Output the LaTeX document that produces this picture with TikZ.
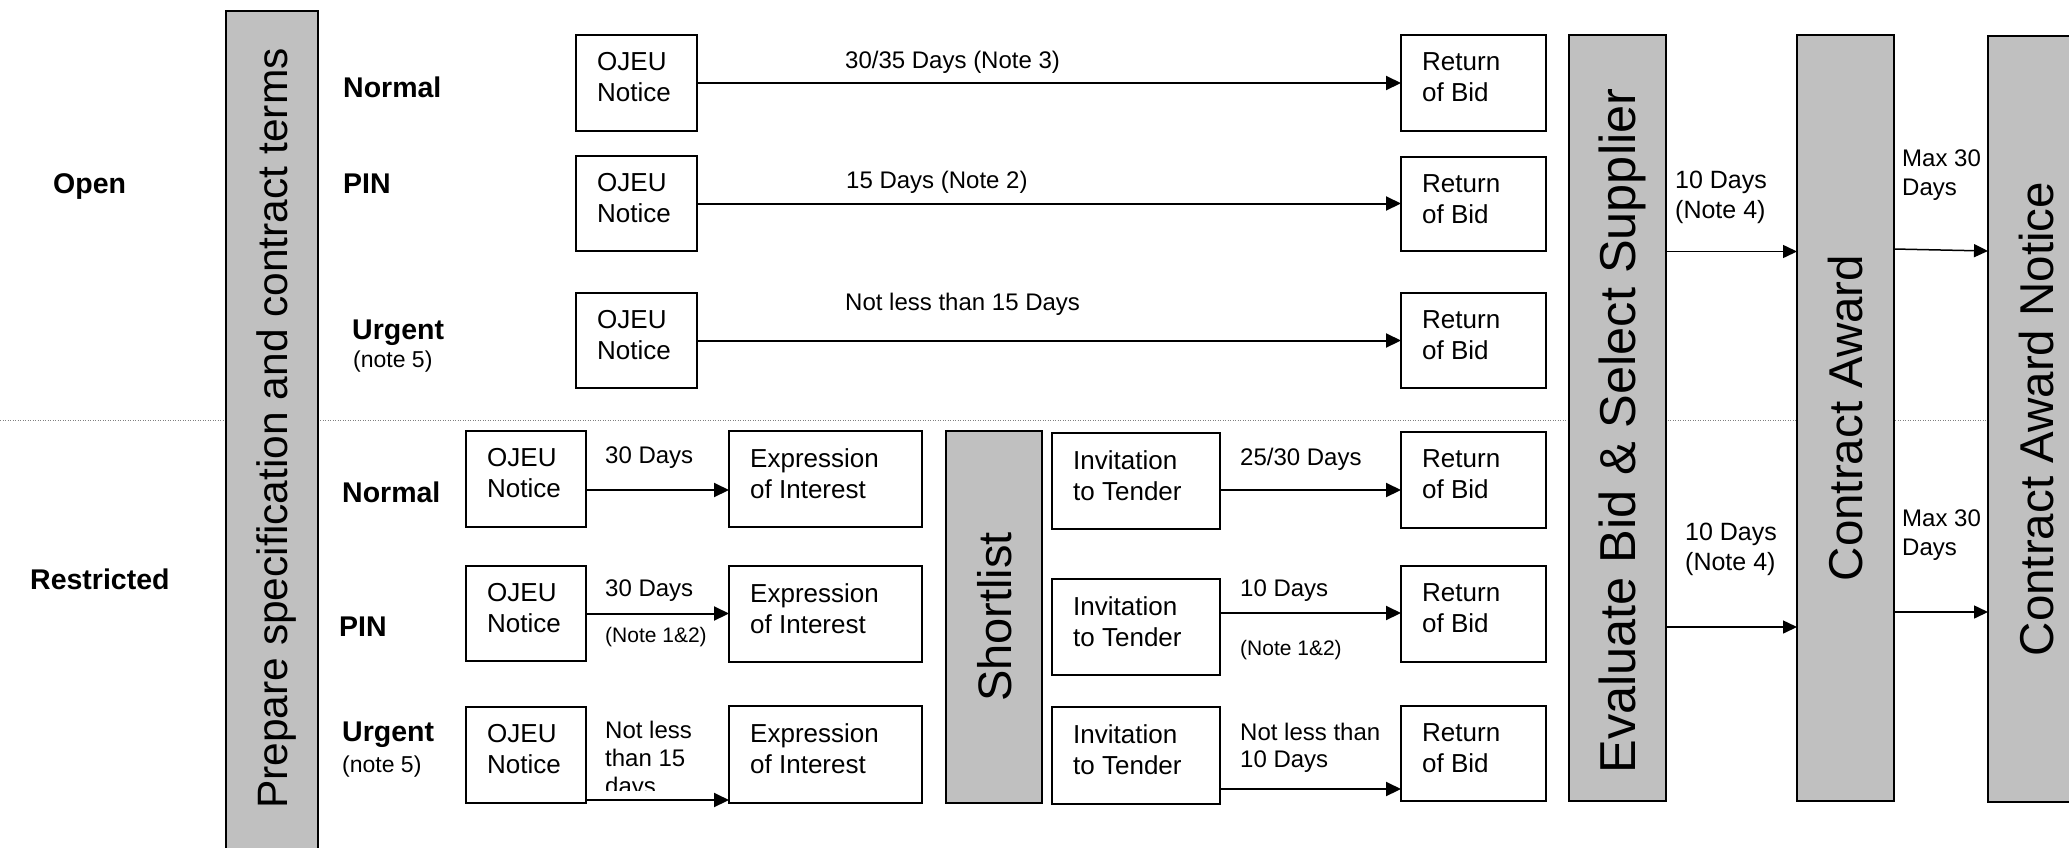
\documentclass[tikz,border=0pt]{standalone}
\usepackage{fontspec}
\setmainfont{Liberation Sans}
\usetikzlibrary{arrows.meta,calc}
\definecolor{barfill}{HTML}{C0C0C0}
\definecolor{dotgray}{HTML}{808080}
\tikzset{
  rbox/.style={draw=black, line width=2pt, fill=white, inner sep=0pt, outer sep=0pt},
  rbar/.style={draw=black, line width=2pt, fill=barfill, inner sep=0pt, outer sep=0pt},
  rboxtext/.style={anchor=north west, align=left, inner sep=0pt, font=\fontsize{26}{31}\selectfont},
  rlbl/.style={inner sep=0pt, align=left, font=\fontsize{24}{28}\selectfont},
  rsmall/.style={inner sep=0pt, anchor=base west, font=\fontsize{21}{24}\selectfont},
  rrow/.style={inner sep=0pt, anchor=base west, font=\bfseries\fontsize{28.5}{32}\selectfont},
  rnote/.style={inner sep=0pt, anchor=base west, font=\fontsize{23}{26}\selectfont},
  rbartext/.style={rotate=90, inner sep=0pt, text depth=0pt, font=\fontsize{47.5}{50}\selectfont},
  rarr/.style={line width=2pt, -{Triangle[length=15pt,width=14pt]}},
  rarrthin/.style={line width=1.5pt, -{Triangle[length=14pt,width=13pt]}},
  rdots/.style={draw=dotgray, line width=1pt, dash pattern=on 1pt off 1.5pt},
}
\newcommand{\mkbox}[6]{%
  \node[rbox, minimum width={(#4)-(#2)}, minimum height={(#5)-(#3)}] (#1) at ({((#2)+(#4))/2},{((#3)+(#5))/2}) {};
  \node[rboxtext] (#1t) at ([xshift=21pt,yshift=-17.5pt]#1.north west) {#6};}
\newcommand{\mkbar}[5]{%
  \node[rbar, minimum width={(#4)-(#2)}, minimum height={(#5)-(#3)}] (#1) at ({((#2)+(#4))/2},{((#3)+(#5))/2}) {};}
\begin{document}
\begin{tikzpicture}[x=1pt,y=-1pt]
\useasboundingbox (0,0) rectangle (2069,847);
\clip (0,0) rectangle (2069,847);
\fill[white] (0,0) rectangle (2069,847);

% separator
\coordinate (sepL) at (0,420);
\coordinate (sepR) at (2069,420);
\draw[rdots] (sepL) -- (sepR);

% bars
\mkbar{prep}{226}{11}{318}{860}
\mkbar{eval}{1569}{35}{1666}{801}
\mkbar{award}{1797}{35}{1894}{801}
\mkbar{notice}{1988}{36}{2084}{802}
\mkbar{short}{946}{431}{1042}{803}
\node[rbartext, font=\fontsize{42.5}{44}\selectfont] (prept) at ([yshift=7pt]prep.center) {Prepare specification and contract terms};
\node[rbartext, font=\fontsize{50.5}{52}\selectfont] (evalt) at ([yshift=-13pt]eval.center) {Evaluate Bid \& Select Supplier};
\node[rbartext] (awardt) at (award.center) {Contract Award};
\node[rbartext] (noticet) at (notice.center) {Contract Award Notice};
\node[rbartext, font=\fontsize{47}{50}\selectfont] (shortt) at (short.center) {Shortlist};

% open boxes
\mkbox{ojeuON}{576}{35}{697}{131}{OJEU\\Notice}
\mkbox{ojeuOP}{576}{156}{697}{251}{OJEU\\Notice}
\mkbox{ojeuOU}{576}{293}{697}{388}{OJEU\\Notice}
\mkbox{robON}{1401}{35}{1546}{131}{Return\\of Bid}
\mkbox{robOP}{1401}{157}{1546}{251}{Return\\of Bid}
\mkbox{robOU}{1401}{293}{1546}{388}{Return\\of Bid}

% restricted boxes
\mkbox{ojeuRN}{466}{431}{586}{527}{OJEU\\Notice}
\mkbox{ojeuRP}{466}{566}{586}{661}{OJEU\\Notice}
\mkbox{ojeuRU}{466}{707}{586}{803}{OJEU\\Notice}
\mkbox{eoiRN}{729}{431}{922}{527}{Expression\\of Interest}
\mkbox{eoiRP}{729}{566}{922}{662}{Expression\\of Interest}
\mkbox{eoiRU}{729}{706}{922}{803}{Expression\\of Interest}
\mkbox{ittRN}{1052}{433}{1220}{529}{Invitation\\to Tender}
\mkbox{ittRP}{1052}{579}{1220}{675}{Invitation\\to Tender}
\mkbox{ittRU}{1052}{707}{1220}{804}{Invitation\\to Tender}
\mkbox{robRN}{1401}{432}{1546}{528}{Return\\of Bid}
\mkbox{robRP}{1401}{566}{1546}{662}{Return\\of Bid}
\mkbox{robRU}{1401}{706}{1546}{801}{Return\\of Bid}

% open arrows
\draw[rarr] (ojeuON.east) -- (robON.west);
\draw[rarr] (ojeuOP.east) -- (ojeuOP.east -| robOP.west);
\draw[rarr] (ojeuOU.east) -- (robOU.west);

% restricted arrows
\draw[rarr] ([yshift=-11pt]ojeuRN.east) -- ([yshift=-11pt]ojeuRN.east -| eoiRN.west);
\draw[rarr] (ojeuRP.east) -- (ojeuRP.east -| eoiRP.west);
\draw[rarr] ([yshift=3pt]ojeuRU.south east) -- ([yshift=3pt]ojeuRU.south east -| eoiRU.west);
\draw[rarr] ([yshift=-9pt]ittRN.east) -- ([yshift=-9pt]ittRN.east -| robRN.west);
\draw[rarr] ([yshift=14pt]ittRP.east) -- ([yshift=14pt]ittRP.east -| robRP.west);
\draw[rarr] ([yshift=15pt]ittRU.south east) -- ([yshift=15pt]ittRU.south east -| robRU.west);

% right arrows
\draw[rarrthin] ([yshift=166.5pt]eval.east) -- ([yshift=166.5pt]eval.east -| award.west);
\draw[rarrthin] ([yshift=-209pt]eval.east) -- ([yshift=-209pt]eval.east -| award.west);
\draw[rarrthin] ([yshift=169pt]award.east) -- ([yshift=168pt]notice.west);
\draw[rarrthin] ([yshift=-194pt]award.east) -- ([yshift=-193pt]notice.west);

% row labels
\node[rrow] (lopen) at (53,193) {Open};
\node[rrow] (lrestr) at (30,589) {Restricted};
\node[rrow] (lon) at (343,97) {Normal};
\node[rrow] (lop) at (343,193) {PIN};
\node[rrow] (lou) at (352,339) {Urgent};
\node[rnote] (lou5) at (353,367) {(note 5)};
\node[rrow] (lrn) at (342,502) {Normal};
\node[rrow] (lrp) at (339,636) {PIN};
\node[rrow] (lru) at (342,741) {Urgent};
\node[rnote] (lru5) at (342,772) {(note 5)};

% open connector labels
\node[rlbl, anchor=base west] (t1) at (845,68) {30/35 Days (Note 3)};
\node[rlbl, anchor=base west] (t2) at (846,188) {15 Days (Note 2)};
\node[rlbl, anchor=base west] (t3) at (845,310) {Not less than 15 Days};

% restricted connector labels
\node[rlbl, anchor=base west] (t4) at (605,463) {30 Days};
\node[rlbl, anchor=base west] (t5) at (605,596) {30 Days};
\node[rsmall] (t6) at (605,642) {(Note 1\&2)};
\begin{scope}
  \clip (595,700) rectangle (728,790);
  \node[rlbl, anchor=north west] (t7) at (605,721) {Not less\\than 15\\days};
\end{scope}
\node[rlbl, anchor=base west] (t8) at (1240,465) {25/30 Days};
\node[rlbl, anchor=base west] (t9) at (1240,596) {10 Days};
\node[rsmall] (t10) at (1240,655) {(Note 1\&2)};
\node[rlbl, anchor=north west, font=\fontsize{24}{27}\selectfont] (t11) at (1240,723) {Not less than\\10 Days};

% right labels
\node[rlbl, anchor=north west, font=\fontsize{25}{30}\selectfont] (t12) at (1675,171) {10 Days\\(Note 4)};
\node[rlbl, anchor=north west, font=\fontsize{25}{30}\selectfont] (t13) at (1685,523) {10 Days\\(Note 4)};
\node[rlbl, anchor=north west, font=\fontsize{24}{29}\selectfont] (t14) at (1902,150) {Max 30\\Days};
\node[rlbl, anchor=north west, font=\fontsize{24}{29}\selectfont] (t15) at (1902,510) {Max 30\\Days};
\end{tikzpicture}
\end{document}
